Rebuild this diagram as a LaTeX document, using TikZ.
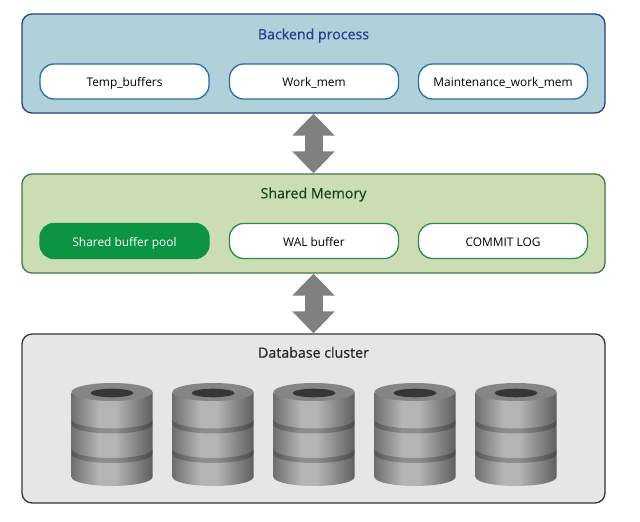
\documentclass[tikz,border=0pt]{standalone}
\usepackage{fontspec}
\setmainfont{Open Sans}
\newfontface\titlefont[FakeBold=0.6]{Open Sans}
\usetikzlibrary{arrows.meta}
\definecolor{bkfill}{HTML}{B0D0DA}
\definecolor{bkline}{HTML}{2C3E8A}
\definecolor{bktext}{HTML}{2B3990}
\definecolor{bkinner}{HTML}{2471A3}
\definecolor{shfill}{HTML}{CCDDB4}
\definecolor{shline}{HTML}{3A7A48}
\definecolor{shtext}{HTML}{17451E}
\definecolor{shinner}{HTML}{2E8B4E}
\definecolor{poolfill}{HTML}{0B9444}
\definecolor{dbfill}{HTML}{E6E6E6}
\definecolor{dbline}{HTML}{333333}
\definecolor{arrowgray}{HTML}{808080}
\definecolor{cylA}{HTML}{6F6F6F}
\definecolor{cylB}{HTML}{B5B5B5}
\definecolor{cylC}{HTML}{5F5F5F}
\definecolor{cyltop}{HTML}{858585}
\definecolor{cylhole}{HTML}{363636}
\pgfdeclarehorizontalshading{cylshade}{100bp}{color(0bp)=(cylA); color(25bp)=(cylA); color(42bp)=(cylB); color(52bp)=(cylB); color(75bp)=(cylC); color(100bp)=(cylC)}
\tikzset{
  outerbox/.style={draw, line width=1.3pt, rounded corners=10pt, minimum width=583pt, inner sep=0pt},
  innerbox/.style={draw, line width=1.3pt, fill=white, rounded corners=14pt, minimum width=169pt, minimum height=35pt, inner sep=0pt, text height=10.5pt, text depth=0pt, font=\fontsize{11.9}{14}\selectfont},
  titletext/.style={inner sep=0pt, anchor=base, font=\titlefont\fontsize{14.2}{16}\selectfont},
  bigarrow/.style={draw=arrowgray, line width=18pt, {Triangle[width=41pt,length=22pt]}-{Triangle[width=41pt,length=22pt]}},
  dbcyl/.pic={
    \shade[shading=cylshade] (-40.5,0) -- (-40.5,85) arc[start angle=180, end angle=0, x radius=40.5, y radius=9] -- (40.5,0) -- cycle;
    \foreach \yb in {27.5,57}{
      \fill[black, opacity=0.22] (-40.5,\yb) arc[start angle=180, end angle=0, x radius=40.5, y radius=9] -- (40.5,\yb+5) arc[start angle=0, end angle=180, x radius=40.5, y radius=9] -- cycle;
    }
    \fill[cyltop] (0,0) ellipse[x radius=40.5, y radius=9];
    \fill[cylhole] (0,1) ellipse[x radius=21.5, y radius=4.3];
  }
}
\begin{document}
\begin{tikzpicture}[x=1pt, y=-1pt]
\useasboundingbox[fill=white] (0,0) rectangle (640,522);
% Backend process
\node[outerbox, draw=bkline, fill=bkfill, minimum height=99pt] (back) at (313.5,63.5) {};
\node[titletext, text=bktext] (backtitle) at (313.5,39.3) {Backend process};
\node[innerbox, draw=bkinner] (temp) at (124.5,81.5) {Temp\_buffers};
\node[innerbox, draw=bkinner] (work) at (314,81.5) {Work\_mem};
\node[innerbox, draw=bkinner] (maint) at (503,81.5) {Maintenance\_work\_mem};
% Shared memory
\node[outerbox, draw=shline, fill=shfill, minimum height=99pt] (shared) at (313.5,223.5) {};
\node[titletext, text=shtext] (sharedtitle) at (313.5,198.3) {Shared Memory};
\node[innerbox, draw=poolfill, fill=poolfill, text=white] (pool) at (124.5,241) {Shared buffer pool};
\node[innerbox, draw=shinner] (wal) at (314,241) {WAL buffer};
\node[innerbox, draw=shinner] (clog) at (503,241) {COMMIT LOG};
% Database cluster
\node[outerbox, draw=dbline, fill=dbfill, minimum height=169pt] (db) at (313.5,418.5) {};
\node[titletext, text=black!85] (dbtitle) at (313.5,357.7) {Database cluster};
\foreach \cx in {112,213,314,415,516}{
  \pic at (\cx,392) {dbcyl};
}
% arrows
\draw[bigarrow] (back.south) -- (shared.north);
\draw[bigarrow] (shared.south) -- (db.north);
\end{tikzpicture}
\end{document}
